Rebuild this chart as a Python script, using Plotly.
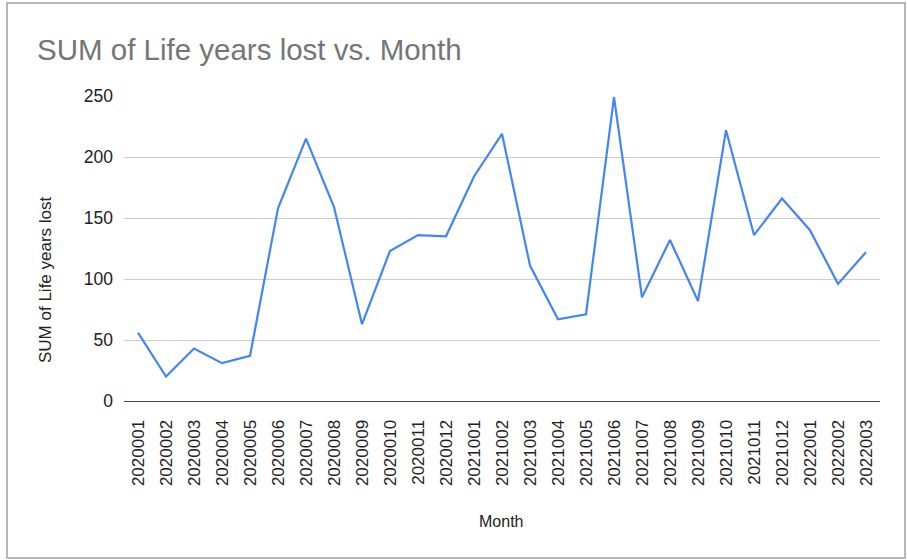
import plotly.graph_objects as go

months = ["2020001", "2020002", "2020003", "2020004", "2020005", "2020006",
          "2020007", "2020008", "2020009", "2020010", "2020011", "2020012",
          "2021001", "2021002", "2021003", "2021004", "2021005", "2021006",
          "2021007", "2021008", "2021009", "2021010", "2021011", "2021012",
          "2022001", "2022002", "2022003"]
life_years_lost = [56, 20, 43, 31, 37, 158, 215, 159, 63, 123, 136, 135,
                   184, 219, 111, 67, 71, 249, 85, 132, 82, 222, 136, 166,
                   140, 96, 122]
y_ticks = [0, 50, 100, 150, 200, 250]

FONT = "Liberation Sans, Arial, sans-serif"

fig = go.Figure()
fig.add_trace(go.Scatter(
    x=months, y=life_years_lost, mode="lines",
    line=dict(color="#4285f4", width=2.2),
    showlegend=False,
))

fig.update_layout(
    width=907, height=560,
    margin=dict(l=124, r=27, t=96, b=159),
    paper_bgcolor="white", plot_bgcolor="white",
    font=dict(family=FONT, color="#222222"),
    title=dict(text="SUM of Life years lost vs. Month",
               x=37/907, xanchor="left", xref="container",
               y=1 - 60/560, yanchor="bottom", yref="container",
               font=dict(size=29.5, color="#757575", family=FONT)),
    xaxis=dict(type="category", tickangle=-90, showgrid=False,
               range=[-0.5, len(months) - 0.5],
               ticks="", tickfont=dict(size=17, color="#222222"),
               showline=True, linecolor="#444444", linewidth=1.2,
               zeroline=False, ticklabelstandoff=11),
    yaxis=dict(range=[0, 250], tickvals=y_ticks, showgrid=True,
               gridcolor="#cccccc", gridwidth=1, zeroline=False,
               tickfont=dict(size=17.5, color="#222222"), ticks="",
               ticklabelstandoff=10),
    shapes=[dict(type="rect", xref="paper", yref="paper",
                 x0=(7-124)/756, x1=(905-124)/756,
                 y0=(401-558)/305, y1=(401-3)/305,
                 line=dict(color="#a0a0a0", width=1.5))],
    annotations=[
        dict(text="SUM of Life years lost", xref="paper", yref="paper",
             x=(45-124)/756, y=(401-280)/305, textangle=-90,
             showarrow=False, xanchor="center", yanchor="middle",
             font=dict(size=17, color="#222222", family=FONT)),
        dict(text="Month", xref="paper", yref="paper",
             x=(501-124)/756, y=(401-521)/305,
             showarrow=False, xanchor="center", yanchor="middle",
             font=dict(size=16, color="#222222", family=FONT)),
    ],
)

fig.write_html("out.html", config={"displayModeBar": False},
               post_script="document.body.style.margin='0';document.body.style.padding='0';")
